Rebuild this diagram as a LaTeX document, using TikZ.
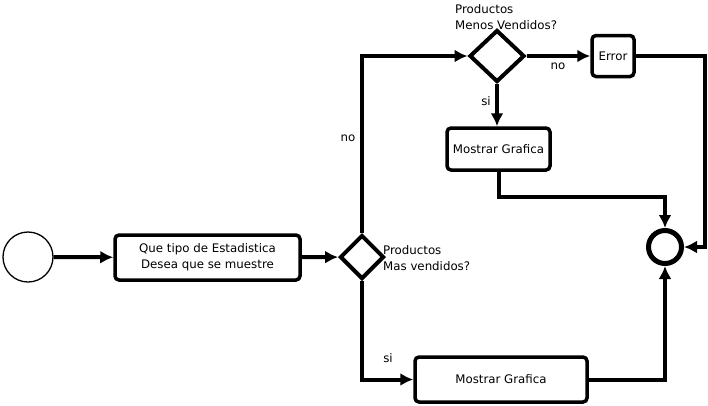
\documentclass[tikz,border=0pt]{standalone}
\usepackage{fontspec}
\setmainfont{DejaVu Sans}
\usetikzlibrary{shapes.geometric,arrows.meta}

\begin{document}
\begin{tikzpicture}[x=1pt,y=-1pt,
  every node/.style={font=\fontsize{11.8}{16}\selectfont},
  act node/.style={rectangle,rounded corners=4pt,draw,line width=3.5pt,inner sep=0pt},
  dec node/.style={diamond,draw,line width=4pt,inner sep=0pt},
  start node/.style={circle,draw,line width=1.3pt,minimum size=50pt,inner sep=0pt},
  end node/.style={circle,draw,line width=5pt,minimum size=33pt,inner sep=0pt},
  flow/.style={line width=4pt,-{Latex[length=13pt,width=13pt]}}]
  \useasboundingbox (0,0) rectangle (708,405);

  \node[start node] (start) at (28,257) {};
  \node[act node,minimum width=185pt,minimum height=45pt,align=center] (ask) at (207.5,257.5) {Que tipo de Estadistica\\Desea que se muestre};
  \node[dec node,minimum width=44pt,minimum height=44pt] (d1) at (362,257) {};
  \node[dec node,minimum width=55pt,minimum height=52pt] (d2) at (497,56) {};
  \node[act node,minimum width=42pt,minimum height=41pt] (err) at (613,56) {Error};
  \node[act node,minimum width=103pt,minimum height=42pt] (show1) at (498.5,149) {Mostrar Grafica};
  \node[act node,minimum width=172pt,minimum height=45pt] (show2) at (501,379.5) {Mostrar Grafica};
  \node[end node] (end) at (665,247) {};
  \coordinate (j1) at (665,197);
  \coordinate (j2) at (705,247);

  \node[anchor=west,align=left,inner sep=0pt] (q1) at (383,258) {Productos\\Mas vendidos?};
  \node[anchor=west,align=left,inner sep=0pt] (q2) at (455,17) {Productos\\Menos Vendidos?};
  \node (no1) at (348,138) {no};
  \node (no2) at (558,66) {no};
  \node (si1) at (486,101) {si};
  \node (si2) at (388,358) {si};

 \path[]
 (start) [flow] edge node [] {} (ask)
 (ask) [flow] edge node [] {} (d1)
 (d2.east) [flow] edge node [] {} (err.west)
 (d2.south) [flow] edge node [] {} (d2.south |- show1.north);
 \draw[flow] (d1.north) |- (d2.west);
 \draw[flow] (d1.south) |- (show2.west);
 \draw[flow] (show1.south) |- (j1) -- (end.north);
 \draw[flow] (err.east) -| (j2) -- (end.east);
 \draw[flow] (show2.east) -| (end.south);
\end{tikzpicture}
\end{document}
